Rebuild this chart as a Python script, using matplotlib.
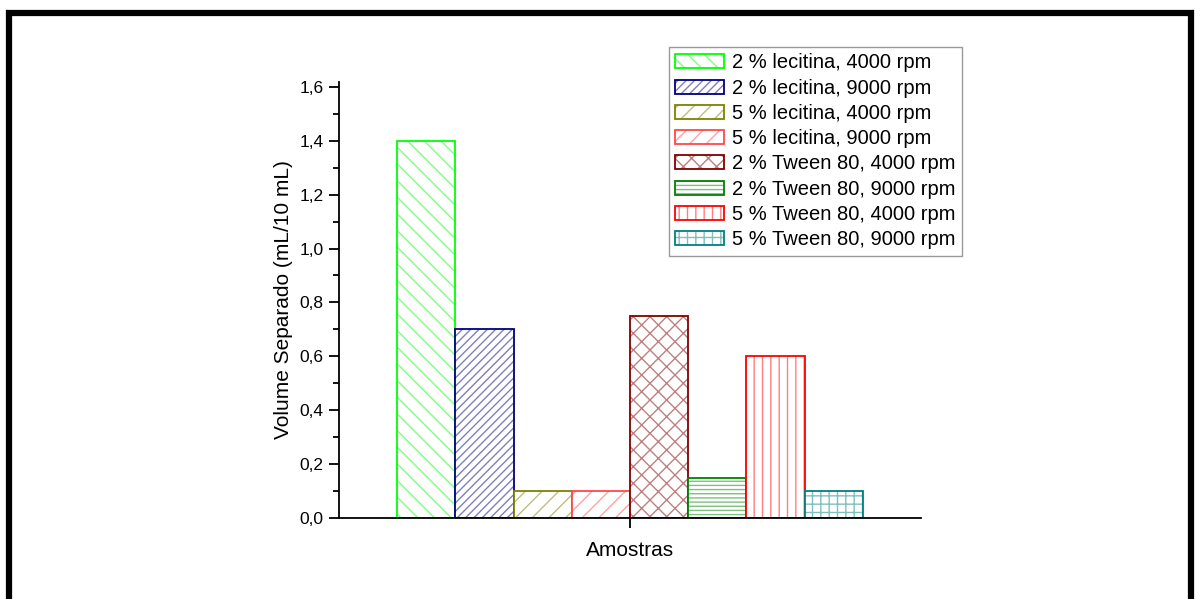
import matplotlib.pyplot as plt
from matplotlib.patches import Rectangle
from matplotlib.legend_handler import HandlerTuple
from matplotlib.ticker import MultipleLocator, FuncFormatter
from matplotlib.colors import to_rgba

plt.rcParams['font.family'] = ['Liberation Sans', 'DejaVu Sans']
plt.rcParams['hatch.linewidth'] = 1.0

# dados
labels = ['2 % lecitina, 4000 rpm', '2 % lecitina, 9000 rpm',
          '5 % lecitina, 4000 rpm', '5 % lecitina, 9000 rpm',
          '2 % Tween 80, 4000 rpm', '2 % Tween 80, 9000 rpm',
          '5 % Tween 80, 4000 rpm', '5 % Tween 80, 9000 rpm']
values = [1.4, 0.7, 0.1, 0.1, 0.75, 0.15, 0.6, 0.1]
colors = ['#00FF00', '#000080', '#808000', '#FF4848',
          '#800000', '#008000', '#FF0000', '#008080']
hatches = ['\\\\', '////', '//', '//', 'xx', '----', '||', '++']

fig = plt.figure(figsize=(12, 5.99), dpi=100)
ax = fig.add_axes([0.2825, 0.1352, 0.485, 0.7279])

w = 0.1
handles = []
for i, (v, c, h, lab) in enumerate(zip(values, colors, hatches, labels)):
    x = -0.35 + i * w
    hc = to_rgba(c, 0.5)
    b1 = ax.bar(x, v, width=w, facecolor='white', edgecolor=hc, hatch=h, linewidth=0)
    b2 = ax.bar(x, v, width=w, facecolor='none', edgecolor=c, linewidth=1.3)
    handles.append((b1[0], b2[0]))

ax.set_xlim(-0.5, 0.5)
ax.set_ylim(0, 1.618)
ax.yaxis.set_major_locator(MultipleLocator(0.2))
ax.yaxis.set_minor_locator(MultipleLocator(0.1))
ax.yaxis.set_major_formatter(FuncFormatter(lambda v, p: f'{v:.1f}'.replace('.', ',')))
ax.set_xticks([0])
ax.set_xticklabels([''])

for s in ['top', 'right']:
    ax.spines[s].set_visible(False)
for s in ['left', 'bottom']:
    ax.spines[s].set_linewidth(1.3)

ax.tick_params(axis='both', which='major', direction='out', length=7, width=1.3,
               labelsize=12.5, pad=4)
ax.tick_params(axis='y', which='minor', direction='out', length=4, width=1.3)

ax.set_ylabel('Volume Separado (mL/10 mL)', fontsize=15, labelpad=4.5)
ax.set_xlabel('Amostras', fontsize=15, labelpad=5.5)

leg = fig.legend(handles, labels, loc='upper left', bbox_to_anchor=(0.5575, 0.9215),
                 bbox_transform=fig.transFigure, borderaxespad=0,
                 handler_map={tuple: HandlerTuple(ndivide=1, pad=0)},
                 fontsize=14.5, frameon=True, fancybox=False, edgecolor='#808080',
                 handlelength=2.4, handleheight=0.7, handletextpad=0.4,
                 labelspacing=0.31, borderpad=0.32)
leg.get_frame().set_linewidth(1.0)

# moldura preta
fig.add_artist(Rectangle((0.0079, -0.2), 0.9846, 1.1783, transform=fig.transFigure,
                         fill=False, edgecolor='black', linewidth=4.5, clip_on=False))

plt.savefig('out.png', dpi=100)
